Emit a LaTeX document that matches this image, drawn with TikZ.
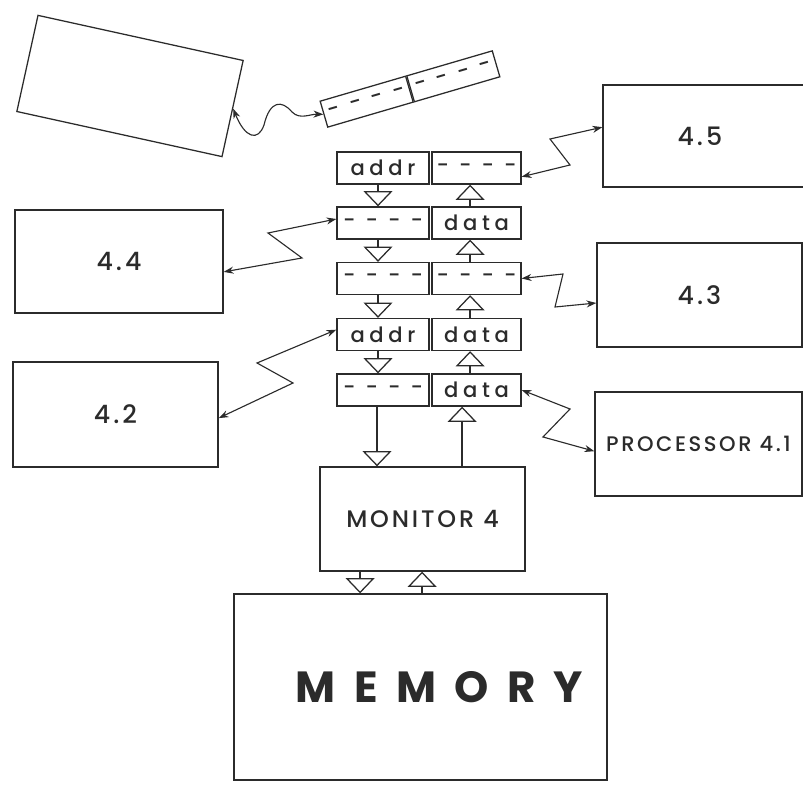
\documentclass[tikz,border=0pt]{standalone}
\usepackage{fontspec}
\setmainfont{Poppins}
\newfontfamily\regfont[LetterSpace=22]{Poppins Medium}
\newfontfamily\labfont[LetterSpace=12]{Poppins Medium}
\newfontfamily\memfont[LetterSpace=42]{Poppins}
\usetikzlibrary{arrows.meta}
\definecolor{Ink}{HTML}{2B2B2B}
\tikzset{
  blk/.style={
    rectangle, draw=Ink, line width=0.9pt, text=Ink,
    inner sep=0pt, font=\fontsize{18}{20}\labfont
  },
  cell/.style={
    blk, minimum width=2.3cm, minimum height=0.8cm,
    font=\fontsize{15}{17}\regfont
  },
  bus/.style={-{Triangle[open, width=0.72cm, length=0.38cm]}, line width=0.9pt, draw=Ink},
  link/.style={{Stealth[length=7pt, width=5pt]}-{Stealth[length=7pt, width=5pt]}, line width=0.8pt, draw=Ink},
}

\begin{document}
\begin{tikzpicture}[x=0.025cm, y=-0.025cm]
\useasboundingbox (0,0) rectangle (803,786);
\clip (0,0) rectangle (803,786);

% tape unit and its register
\node[blk, minimum width=5.25cm, minimum height=2.46cm, rotate=-12.4] at (130,86) (host) {};
\node[cell, minimum width=2.225cm, minimum height=0.675cm, rotate=16.3, anchor=east] at (410,89) (tl) {- - - -};
\node[cell, minimum width=2.225cm, minimum height=0.675cm, rotate=16.3, anchor=west] at (410,89) (tr) {- - - -};

% register stack
\foreach \i/\y/\ta/\td in {1/168/addr/{- - - -}, 2/223/{- - - -}/data, 3/278.5/{- - - -}/{- - - -}, 4/334.5/addr/data, 5/390/{- - - -}/data} {
  \node[cell] at (383,\y) (a\i) {\ta};
  \node[cell, minimum width=2.225cm] at (476.5,\y) (d\i) {\td};
}
\foreach \i/\j in {1/2, 2/3, 3/4, 4/5} {
  \draw[bus] ([xshift=-0.125cm]a\i.south) -- ([xshift=-0.125cm]a\j.north);
  \draw[bus] ([xshift=-0.16cm]d\j.north) -- ([xshift=-0.16cm]d\i.south);
}

% processors
\node[blk, minimum width=5.225cm, minimum height=2.55cm] at (707.5,136) (p5) {4.5\hspace*{0.38cm}};
\node[blk, minimum width=5.125cm, minimum height=2.6cm] at (699.5,295) (p3) {4.3};
\node[blk, minimum width=5.175cm, minimum height=2.6cm, font=\fontsize{15}{17}\labfont] at (698.5,444) (p1) {PROCESSOR 4.1};
\node[blk, minimum width=5.2cm, minimum height=2.575cm] at (119,261.5) (p4) {4.4};
\node[blk, minimum width=5.125cm, minimum height=2.625cm] at (115.5,414.5) (p2) {4.2};

% monitor and memory
\node[blk, minimum width=5.125cm, minimum height=2.6cm, font=\fontsize{17}{19}\labfont] at (422.5,519) (mon) {MONITOR 4};
\node[blk, minimum width=9.325cm, minimum height=4.65cm, font=\fontsize{31}{33}\memfont\bfseries] at (420.5,687) (mem) {\hspace*{0.95cm}MEMORY};

\draw[bus] ([xshift=-0.15cm]a5.south) -- ([xshift=-0.15cm]a5.south |- mon.north);
\draw[bus] ([xshift=0.99cm]mon.north) -- ([xshift=0.99cm]mon.north |- d5.south);
\draw[bus] ([xshift=-1.56cm]mon.south) -- ([xshift=-1.56cm]mon.south |- mem.north);
\draw[bus] ([xshift=0.04cm]mem.north) -- ([xshift=0.04cm]mem.north |- mon.south);

% links
\draw[link] (host.east) .. controls (245,138) and (258,142) .. (264,125)
  .. controls (270,100) and (282,100) .. (292,112)
  .. controls (300,120) and (310,114) .. (tl.west);
\draw[link] ([yshift=-0.22cm]d1.east) -- (570,165) -- (550,139) -- ([yshift=0.22cm]p5.west);
\draw[link] (d3.east) -- (563,274) -- (555,307) -- ([yshift=-0.2cm]p3.west);
\draw[link] (d5.east) -- (570,409) -- (543,437) -- ([yshift=-0.18cm]p1.west);
\draw[link] ([yshift=0.1cm]a2.west) -- (268,233) -- (302,258) -- ([yshift=-0.26cm]p4.east);
\draw[link] ([yshift=0.12cm]a4.west) -- (257,363) -- (293,383) -- ([yshift=-0.09cm]p2.east);

\end{tikzpicture}
\end{document}
